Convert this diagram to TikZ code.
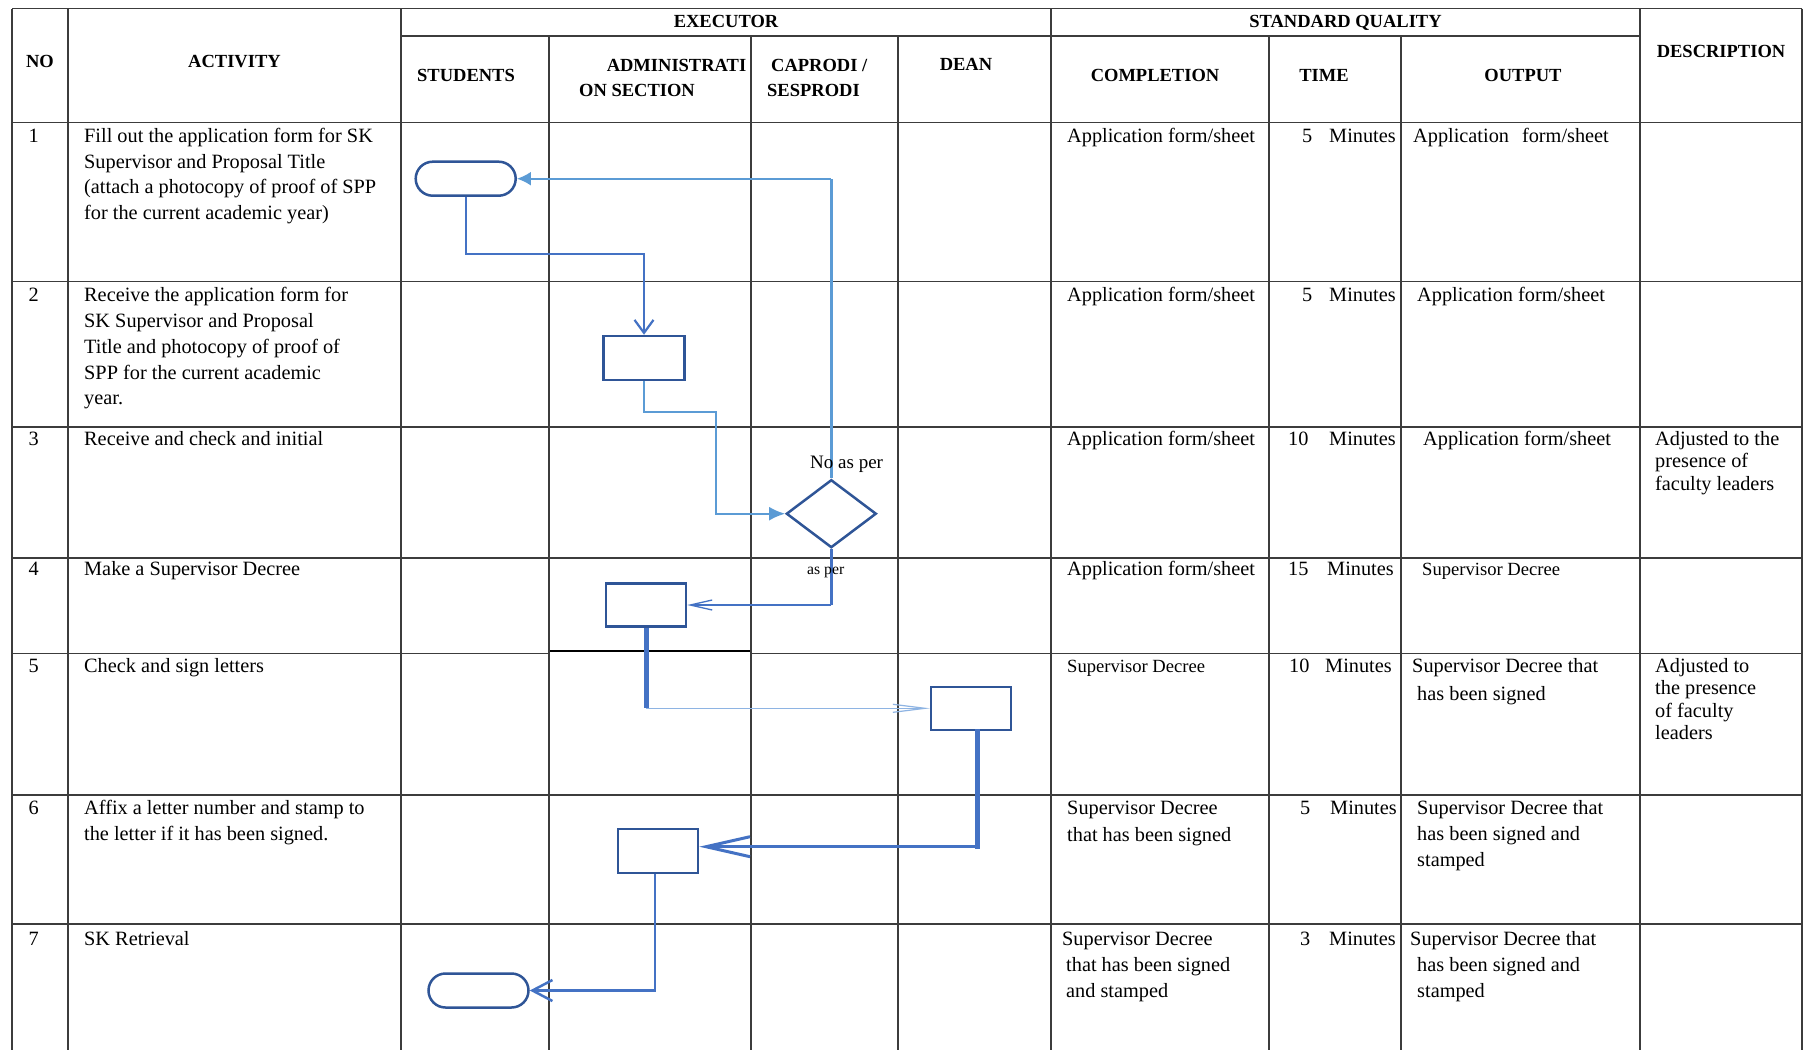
\documentclass[tikz,border=0pt]{standalone}
\usepackage{fontspec}
\setmainfont{Liberation Serif}
\usetikzlibrary{arrows.meta,shapes.geometric}

\definecolor{shapeblue}{HTML}{2F5597}
\definecolor{flowblue}{HTML}{4472C4}
\definecolor{lightblue}{HTML}{5B9BD5}
\definecolor{paleblue}{HTML}{8EB4E3}
\definecolor{gridgray}{HTML}{3C3C3C}

% one node per text line, baselines a fixed distance apart
\newcommand\celltext[6][txt]{%
  \foreach \ctext [count=\k from 0] in {#6}{%
    \node[#1] (#2-\k) at (#3,{#4+\k*#5}) {\ctext};}}

\begin{document}
\begin{tikzpicture}[x=1pt,y=-1pt,
  tabline/.style={draw=gridgray,line width=1.3pt},
  txt/.style={font=\fontsize{20.3}{24}\selectfont,inner sep=0pt,anchor=base west},
  smalltxt/.style={txt,font=\fontsize{18.6}{22}\selectfont},
  head/.style={font=\bfseries\fontsize{18.5}{22}\selectfont,inner sep=0pt,anchor=base},
  term/.style={draw=shapeblue,line width=2.5pt,rectangle,rounded corners=17pt,
    minimum width=100pt,minimum height=34pt,inner sep=0pt},
  proc/.style={draw=shapeblue,line width=2.5pt,rectangle,
    minimum width=80pt,minimum height=43pt,inner sep=0pt},
  decision/.style={draw=shapeblue,line width=2.5pt,diamond,
    minimum width=90pt,minimum height=68pt,inner sep=0pt},
  flow/.style={draw=flowblue},
  flowlight/.style={draw=lightblue},
]
\useasboundingbox[fill=white] (0,0) rectangle (1807,1050);

% ---------------- table rules ----------------
\draw[tabline] (12,8.5) -- (1802,8.5);
\draw[tabline] (401,36) -- (1640,36);
\foreach \yy in {122.5,281.5,427,558,795,924}
  \draw[tabline] (12,\yy) -- (1802,\yy);
\draw[tabline] (12,653.5) -- (549,653.5);
\draw[draw=black,line width=2pt] (549,651) -- (751,651);
\draw[tabline] (751,653.5) -- (1802,653.5);
\foreach \xx in {12,68,401,1051,1640,1802}
  \draw[tabline] (\xx,8.5) -- (\xx,1050);
\foreach \xx in {549,751,898,1269,1401}
  \draw[tabline] (\xx,36) -- (\xx,1050);

% ---------------- header ----------------
\node[head] (hno)    at (40,67.5)    {NO};
\node[head] (hact)   at (234.5,67.5) {ACTIVITY};
\node[head] (hexe)   at (726,27)     {EXECUTOR};
\node[head] (hstd)   at (1345.5,27)  {STANDARD QUALITY};
\node[head] (hdesc)  at (1721,57)    {DESCRIPTION};
\node[head] (hstu)   at (466,81.5)   {STUDENTS};
\node[head] (hadm1)  at (676.5,71)   {ADMINISTRATI};
\node[head] (hadm2)  at (637,96.5)   {ON SECTION};
\node[head,anchor=base west] (hcap1) at (771,71)   {CAPRODI /};
\node[head,anchor=base west] (hcap2) at (767,96.5) {SESPRODI};
\node[head] (hdean)  at (966,70)     {DEAN};
\node[head] (hcomp)  at (1155,81.5)  {COMPLETION};
\node[head] (htime)  at (1324,81.5)  {TIME};
\node[head] (hout)   at (1523,81.5)  {OUTPUT};

% ---------------- row 1 ----------------
\node[txt] (n1) at (28.3,142.3) {1};
\celltext{r1a}{84}{142.3}{25.7}{Fill out the application form for SK,
  Supervisor and Proposal Title,{(attach a photocopy of proof of SPP},
  {for the current academic year)}}
\node[txt] (r1c) at (1067,142.3) {Application form/sheet};
\node[txt] (r1t) at (1302,142.3) {5};
\node[txt] (r1m) at (1329,142.3) {Minutes};
\node[txt] (r1o) at (1413,142.3) {Application\hspace{13pt}form/sheet};

% ---------------- row 2 ----------------
\node[txt] (n2) at (28.3,301.7) {2};
\celltext{r2a}{84}{301.7}{25.8}{Receive the application form for,
  SK Supervisor and Proposal,Title and photocopy of proof of,
  SPP for the current academic,year.}
\node[txt] (r2c) at (1067,301.7) {Application form/sheet};
\node[txt] (r2t) at (1302,301.7) {5};
\node[txt] (r2m) at (1329,301.7) {Minutes};
\node[txt] (r2o) at (1417,301.7) {Application form/sheet};

% ---------------- row 3 ----------------
\node[txt] (n3) at (28.3,445.7) {3};
\node[txt] (r3a) at (84,445.7) {Receive and check and initial};
\node[txt] (r3c) at (1067,445.7) {Application\ form/sheet};
\node[txt] (r3t) at (1288,445.7) {10};
\node[txt] (r3m) at (1329,445.7) {Minutes};
\node[txt] (r3o) at (1423,445.7) {Application form/sheet};
\celltext{r3d}{1655}{445.7}{22.2}{Adjusted to the,presence of,faculty leaders}

% ---------------- row 4 ----------------
\node[txt] (n4) at (28.3,575.7) {4};
\node[txt] (r4a) at (84,575.7) {Make a Supervisor Decree};
\node[txt] (r4c) at (1067,575.7) {Application\ form/sheet};
\node[txt] (r4t) at (1288,575.7) {15};
\node[txt] (r4m) at (1327,575.7) {Minutes};
\node[smalltxt] (r4o) at (1422,575.7) {Supervisor Decree};

% ---------------- row 5 ----------------
\node[txt] (n5) at (28.3,672.7) {5};
\node[txt] (r5a) at (84,672.7) {Check and sign letters};
\node[smalltxt] (r5c) at (1067,672.7) {Supervisor Decree};
\node[txt] (r5t) at (1289,672.7) {10};
\node[txt] (r5m) at (1325,672.7) {Minutes};
\node[txt] (r5o-0) at (1412,672.7) {Supervisor Decree that};
\node[txt] (r5o-1) at (1417,700) {has been signed};
\celltext{r5d}{1655}{672.7}{22.2}{Adjusted to,the presence,of faculty,leaders}

% ---------------- row 6 ----------------
\node[txt] (n6) at (28.3,814.3) {6};
\celltext{r6a}{84}{814.3}{25.7}{Affix a letter number and stamp to,
  the letter if it has been signed.}
\celltext{r6c}{1067}{814.3}{26.7}{Supervisor Decree,that has been signed}
\node[txt] (r6t) at (1300,814.3) {5};
\node[txt] (r6m) at (1330,814.3) {Minutes};
\celltext{r6o}{1417}{814.3}{26.2}{Supervisor Decree that,has been signed and,stamped}

% ---------------- row 7 ----------------
\node[txt] (n7) at (28.3,945) {7};
\node[txt] (r7a) at (84,945) {SK Retrieval};
\node[txt] (r7c-0) at (1062,945) {Supervisor Decree};
\celltext{r7c}{1066}{971}{26}{that has been signed,and stamped}
\node[txt] (r7t) at (1300,945) {3};
\node[txt] (r7m) at (1329,945) {Minutes};
\node[txt] (r7o-0) at (1410,945) {Supervisor Decree that};
\celltext{r7o}{1417}{971}{26}{has been signed and,stamped}

% ---------------- flow shapes ----------------
\node[term]     (t1) at (465.7,178.7) {};
\node[proc, minimum width=81pt, minimum height=44pt] (p2) at (644,358) {};
\node[decision] (d3) at (831.3,513.7) {};
\node[proc]     (p4) at (646,605) {};
\node[proc]     (p5) at (971,708.3) {};
\node[proc, minimum height=44pt] (p6) at (658,851) {};
\node[term]     (t7) at (478.5,990.5) {};

% ---------------- connectors ----------------
% not as required: back to the student
\coordinate (c1) at (d3.north |- t1.east);
\draw[flowlight, line width=3pt] (d3.north) -- (c1);
\draw[flowlight, line width=2pt, -{Latex[length=14pt,width=14pt]}] (c1) -- (t1.east);

% form handed to the administration
\coordinate (c2) at (p2.north |- 0,254.3);
\draw[flow, line width=2.2pt, -{Straight Barb[length=13pt,width=19pt]}]
  (t1.south) |- (c2) -- (p2.north);

% forwarded for checking
\coordinate (c3) at (715.5,411.7);
\draw[flowlight, line width=2pt, -{Latex[length=16pt,width=14pt]}]
  (p2.south) |- (c3) |- (d3.west);

% as required: decree is drafted
\coordinate (c4) at (d3.south |- p4.east);
\draw[flow, line width=3pt] (d3.south) -- (c4);
\draw[flow, line width=1.3pt, -{Straight Barb[length=22pt,width=10pt]}] (c4) -- (p4.east);

% decree to the dean
\coordinate (c5) at (p4.south |- p5.west);
\draw[flow, line width=5pt] (p4.south) -- (c5);
\draw[paleblue, line width=1.2pt, -{Straight Barb[length=32pt,width=8pt]}] (c5) -- (p5.west);

% signed letter back to the administration
\coordinate (c6) at (977.3,846.7);
\draw[flow, line width=5pt, line cap=rect] ([xshift=6.3pt]p5.south) -- (c6);
\draw[flow, line width=3pt, -{Straight Barb[length=44pt,width=20pt]}] (c6) -- (c6 -| p6.east);

% retrieval by the student
\draw[flow, line width=2.5pt, -{Straight Barb[length=20pt,width=21pt]}]
  ([xshift=-3pt]p6.south) |- (t7.east);

% decision labels
\node[font=\fontsize{19}{22}\selectfont, inner sep=0pt, anchor=base west] (lno) at (810,468) {No as per};
\node[font=\fontsize{15.7}{18}\selectfont, inner sep=0pt, anchor=base west] (lyes) at (807,574) {as per};
\end{tikzpicture}
\end{document}
